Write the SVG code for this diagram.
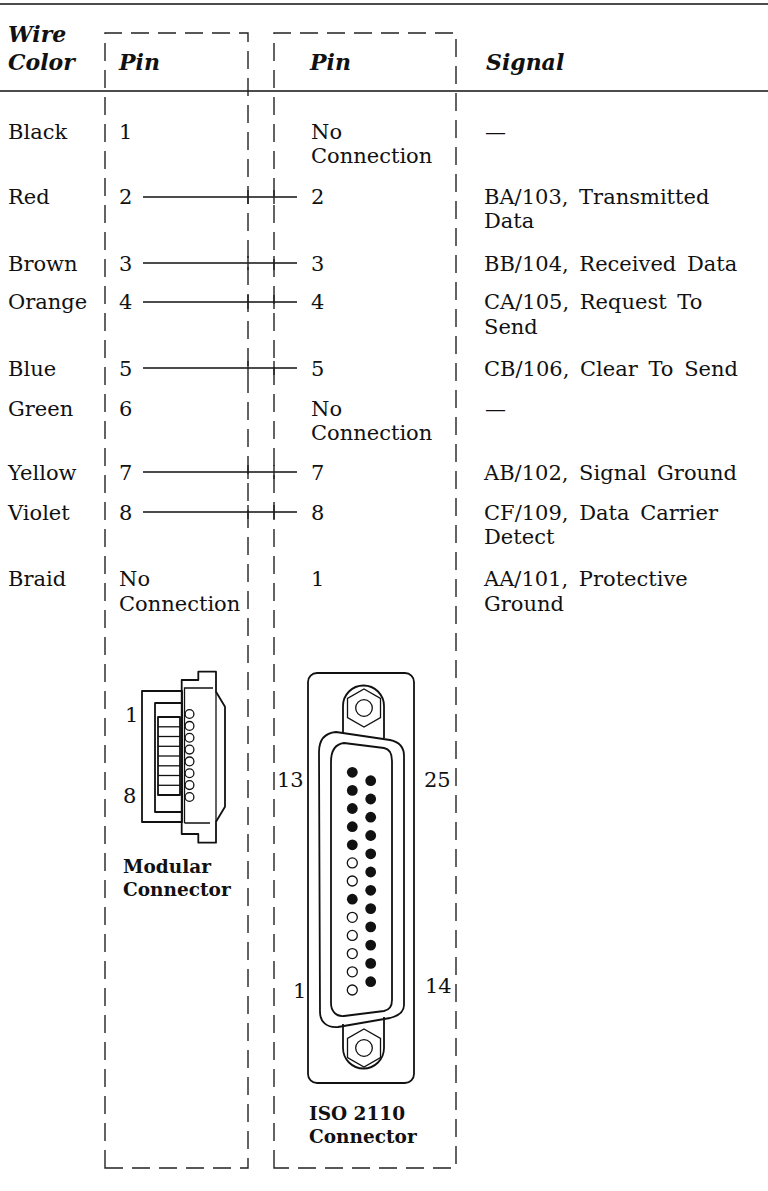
<svg xmlns="http://www.w3.org/2000/svg" width="768" height="1191" viewBox="0 0 768 1191">
<style>
.t{font-family:"DejaVu Serif","Liberation Serif",serif;font-size:21px;fill:#111}
.h{font-weight:bold;font-style:italic;font-size:22px}
.b{font-weight:bold;font-size:18.5px}
.s{word-spacing:4px}
.dash{fill:none;stroke:#222;stroke-width:1.4;stroke-dasharray:18 9}
.rule{stroke:#111;fill:none}
.wire{stroke:#111;stroke-width:1.3;fill:none}
.tick{stroke:#222;stroke-width:1.4}
.ln{fill:none;stroke:#111;stroke-width:1.8;stroke-linejoin:round}
.thin{fill:none;stroke:#111;stroke-width:1.3}
.pf{fill:#111}
.po{fill:#fff;stroke:#111;stroke-width:1.3}
</style>

<g id="rules">
<line class="rule" x1="0" y1="4" x2="768" y2="4" stroke-width="1.6"/>
<line class="rule" x1="0" y1="91" x2="768" y2="91" stroke-width="1.3"/>
</g>

<g id="boxes">
<path class="dash" d="M105,1168 V33 H248 V1168 Z"/>
<path class="dash" d="M274,1168 V33 H456 V1168 Z"/>
</g>

<g id="header">
<text class="t h" x="8" y="42">Wire</text>
<text class="t h" x="8" y="70">Color</text>
<text class="t h" x="119" y="70">Pin</text>
<text class="t h" x="310" y="70">Pin</text>
<text class="t h" x="486" y="70">Signal</text>
</g>

<g id="row-black">
<text class="t" x="8" y="139">Black</text>
<text class="t" x="119" y="139">1</text>
<text class="t" x="311" y="139">No</text>
<text class="t" x="311" y="163">Connection</text>
<text class="t" x="485" y="139">—</text>
</g>
<g id="row-red">
<text class="t" x="8" y="204">Red</text>
<text class="t" x="119" y="204">2</text>
<text class="t" x="311" y="204">2</text>
<text class="t s" x="484" y="204">BA/103, Transmitted</text>
<text class="t s" x="484" y="228">Data</text>
</g>
<g id="row-brown">
<text class="t" x="8" y="271">Brown</text>
<text class="t" x="119" y="271">3</text>
<text class="t" x="311" y="271">3</text>
<text class="t s" x="484" y="271">BB/104, Received Data</text>
</g>
<g id="row-orange">
<text class="t" x="8" y="309">Orange</text>
<text class="t" x="119" y="309">4</text>
<text class="t" x="311" y="309">4</text>
<text class="t s" x="484" y="309">CA/105, Request To</text>
<text class="t s" x="484" y="334">Send</text>
</g>
<g id="row-blue">
<text class="t" x="8" y="376">Blue</text>
<text class="t" x="119" y="376">5</text>
<text class="t" x="311" y="376">5</text>
<text class="t s" x="484" y="376">CB/106, Clear To Send</text>
</g>
<g id="row-green">
<text class="t" x="8" y="416">Green</text>
<text class="t" x="119" y="416">6</text>
<text class="t" x="311" y="416">No</text>
<text class="t" x="311" y="440">Connection</text>
<text class="t" x="485" y="416">—</text>
</g>
<g id="row-yellow">
<text class="t" x="8" y="480">Yellow</text>
<text class="t" x="119" y="480">7</text>
<text class="t" x="311" y="480">7</text>
<text class="t s" x="484" y="480">AB/102, Signal Ground</text>
</g>
<g id="row-violet">
<text class="t" x="8" y="520">Violet</text>
<text class="t" x="119" y="520">8</text>
<text class="t" x="311" y="520">8</text>
<text class="t s" x="484" y="520">CF/109, Data Carrier</text>
<text class="t s" x="484" y="544">Detect</text>
</g>
<g id="row-braid">
<text class="t" x="8" y="586">Braid</text>
<text class="t" x="119" y="586">No</text>
<text class="t" x="119" y="611">Connection</text>
<text class="t" x="311" y="586">1</text>
<text class="t s" x="484" y="586">AA/101, Protective</text>
<text class="t s" x="484" y="611">Ground</text>
</g>

<g id="connectors">
<line class="wire" x1="143" y1="197" x2="297" y2="197"/>
<line class="wire" x1="143" y1="263" x2="297" y2="263"/>
<line class="wire" x1="143" y1="302" x2="297" y2="302"/>
<line class="wire" x1="143" y1="368" x2="297" y2="368"/>
<line class="wire" x1="143" y1="472" x2="297" y2="472"/>
<line class="wire" x1="143" y1="512" x2="297" y2="512"/>
<g class="tick">
<line x1="248" y1="190" x2="248" y2="204"/><line x1="274" y1="190" x2="274" y2="204"/>
<line x1="248" y1="256" x2="248" y2="270"/><line x1="274" y1="256" x2="274" y2="270"/>
<line x1="248" y1="295" x2="248" y2="309"/><line x1="274" y1="295" x2="274" y2="309"/>
<line x1="248" y1="361" x2="248" y2="375"/><line x1="274" y1="361" x2="274" y2="375"/>
<line x1="248" y1="465" x2="248" y2="479"/><line x1="274" y1="465" x2="274" y2="479"/>
<line x1="248" y1="505" x2="248" y2="519"/><line x1="274" y1="505" x2="274" y2="519"/>
</g>
</g>

<g id="modular-connector">
<rect class="ln" x="142" y="691" width="40" height="131"/>
<rect class="ln" x="155" y="703" width="27" height="109"/>
<rect class="ln" x="158" y="717" width="22" height="78"/>
<g class="thin">
<line x1="158" y1="726.8" x2="180" y2="726.8"/>
<line x1="158" y1="736.5" x2="180" y2="736.5"/>
<line x1="158" y1="746.3" x2="180" y2="746.3"/>
<line x1="158" y1="756" x2="180" y2="756"/>
<line x1="158" y1="765.8" x2="180" y2="765.8"/>
<line x1="158" y1="775.5" x2="180" y2="775.5"/>
<line x1="158" y1="785.3" x2="180" y2="785.3"/>
</g>
<path class="ln" d="M181.7,680 H198.3 V671.7 H216 V691.7 L225,706.7 V806.7 L216,821.7 V842.7 H198.3 V834 H181.7 Z"/>
<path class="thin" d="M184.5,823 V688 H213 M216,691.7 V821.7 M184.5,823 H210"/>
<g class="po">
<circle cx="189.5" cy="714" r="4.4"/>
<circle cx="189.5" cy="725.9" r="4.4"/>
<circle cx="189.5" cy="737.7" r="4.4"/>
<circle cx="189.5" cy="749.6" r="4.4"/>
<circle cx="189.5" cy="761.4" r="4.4"/>
<circle cx="189.5" cy="773.3" r="4.4"/>
<circle cx="189.5" cy="785.1" r="4.4"/>
<circle cx="189.5" cy="797" r="4.4"/>
</g>
<text class="t" x="125" y="722">1</text>
<text class="t" x="123" y="803">8</text>
<text class="t b" x="123" y="873">Modular</text>
<text class="t b" x="123" y="896">Connector</text>
</g>

<g id="iso2110-connector">
<rect class="ln" x="308" y="673" width="106" height="410" rx="9"/>
<path class="ln" d="M343,733 V706 A20.5,20.5 0 0 1 384,706 V738"/>
<polygon class="thin" points="364,689 380.5,698.5 380.5,717.5 364,727 347.5,717.5 347.5,698.5"/>
<circle class="thin" cx="364" cy="708" r="8.3"/>
<path class="ln" d="M343,1024 V1048 A20.5,20.5 0 0 0 384,1048 V1017"/>
<polygon class="thin" points="364,1029 380.5,1038.5 380.5,1057.5 364,1067 347.5,1057.5 347.5,1038.5"/>
<circle class="thin" cx="364" cy="1048" r="8.3"/>
<path class="ln" fill="#fff" d="M319,752 C319,740 325,733 336,732 L390,740 C400,742 404,748 404,756 L404,1005 C404,1012 398,1016 390,1018 L338,1027 C327,1028 320,1022 320,1012 Z"/>
<path class="ln" d="M331,762 C331,750 336,744 344,743 L384,748 C390,749 392,754 392,761 L392,1000 C392,1006 389,1010 384,1011 L344,1016 C336,1017 331,1011 331,1003 Z"/>
<g class="pf">
<circle cx="352.3" cy="772.3" r="5.4"/>
<circle cx="352.3" cy="790.4" r="5.4"/>
<circle cx="352.3" cy="808.5" r="5.4"/>
<circle cx="352.3" cy="826.7" r="5.4"/>
<circle cx="352.3" cy="844.8" r="5.4"/>
<circle cx="352.3" cy="899.2" r="5.4"/>
<circle cx="370.7" cy="780.7" r="5.4"/>
<circle cx="370.7" cy="799" r="5.4"/>
<circle cx="370.7" cy="817.2" r="5.4"/>
<circle cx="370.7" cy="835.5" r="5.4"/>
<circle cx="370.7" cy="853.8" r="5.4"/>
<circle cx="370.7" cy="872" r="5.4"/>
<circle cx="370.7" cy="890.3" r="5.4"/>
<circle cx="370.7" cy="908.6" r="5.4"/>
<circle cx="370.7" cy="926.9" r="5.4"/>
<circle cx="370.7" cy="945.1" r="5.4"/>
<circle cx="370.7" cy="963.4" r="5.4"/>
<circle cx="370.7" cy="981.7" r="5.4"/>
</g>
<g class="po">
<circle cx="352.3" cy="862.9" r="5"/>
<circle cx="352.3" cy="881" r="5"/>
<circle cx="352.3" cy="917.3" r="5"/>
<circle cx="352.3" cy="935.4" r="5"/>
<circle cx="352.3" cy="953.6" r="5"/>
<circle cx="352.3" cy="971.8" r="5"/>
<circle cx="352.3" cy="990" r="5"/>
</g>
<text class="t" x="277" y="787">13</text>
<text class="t" x="424" y="787">25</text>
<text class="t" x="293" y="998">1</text>
<text class="t" x="425" y="993">14</text>
<text class="t b" x="309" y="1120">ISO 2110</text>
<text class="t b" x="309" y="1143">Connector</text>
</g>
</svg>
